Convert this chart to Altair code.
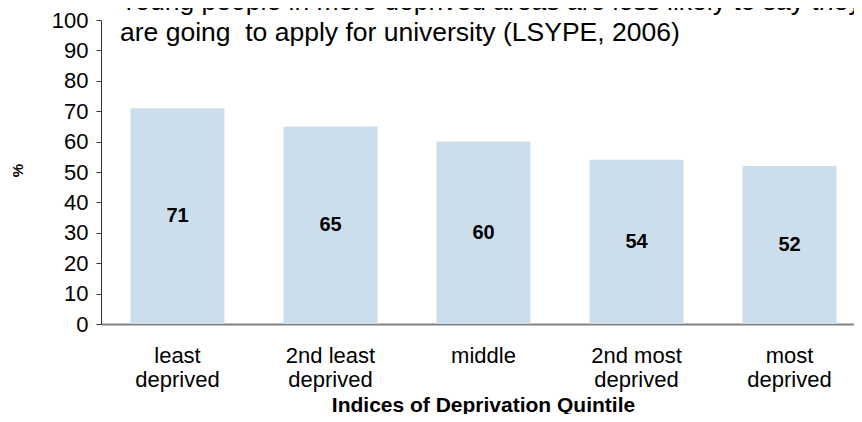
import altair as alt
import pandas as pd

categories = ["least deprived", "2nd least deprived", "middle", "2nd most deprived", "most deprived"]
values = [71, 65, 60, 54, 52]
y_ticks = [0, 10, 20, 30, 40, 50, 60, 70, 80, 90, 100]
title_lines = [
    "Young people in more deprived areas are less likely to say they",
    "are going \u00a0to apply for university (LSYPE, 2006)",
]
x_title = "Indices of Deprivation Quintile"
y_title = "%"

df = pd.DataFrame({"quintile": categories, "pct": values})

FONT = "Liberation Sans"
BAR = "#CCDDEB"

x_scale = alt.Scale(range=[0, 765], paddingInner=0.386, paddingOuter=0.193)
x_axis = alt.Axis(
    title=x_title,
    labelAngle=0,
    labelExpr="indexof(datum.value, ' deprived') > 0 ? [replace(datum.value, ' deprived', ''), 'deprived'] : datum.value",
    labelFont=FONT,
    labelFontSize=22,
    labelLineHeight=24,
    labelPadding=31,
    labelColor="black",
    labelBaseline="middle",
    labelOverlap=False,
    ticks=False,
    domainColor="#808080",
    domainWidth=2,
    titleFont=FONT,
    titleFontSize=21,
    titleFontWeight="bold",
    titleColor="black",
    titleX=382,
    titleY=81,
    titleBaseline="middle",
    titleAlign="center",
)

y_scale = alt.Scale(domain=[0, 100], nice=False)
y_axis = alt.Axis(
    title=y_title,
    values=y_ticks,
    grid=False,
    labelOverlap=False,
    labelFont=FONT,
    labelFontSize=22,
    labelColor="black",
    labelPadding=8,
    tickSize=5,
    tickColor="#333333",
    domainColor="#333333",
    titleFont=FONT,
    titleFontSize=15,
    titleFontWeight="bold",
    titleColor="black",
    titleAngle=270,
    titleX=-84,
    titleY=150,
    titleBaseline="middle",
    titleAlign="center",
)

bars = alt.Chart(df).mark_bar(color=BAR).encode(
    x=alt.X("quintile:N", sort=categories, scale=x_scale, axis=x_axis),
    y=alt.Y("pct:Q", scale=y_scale, axis=y_axis),
)

labels = (
    alt.Chart(df)
    .transform_calculate(mid="datum.pct / 2")
    .mark_text(font=FONT, fontSize=20, fontWeight="bold", color="black", baseline="middle")
    .encode(
        x=alt.X("quintile:N", sort=categories, scale=x_scale, axis=x_axis),
        y=alt.Y("mid:Q", scale=y_scale, axis=y_axis),
        text=alt.Text("pct:Q"),
    )
)

chart = (
    alt.layer(bars, labels)
    .properties(
        width=753,
        height=304,
        autosize=alt.AutoSizeParams(type="none"),
        padding={"left": 93, "top": 12, "right": 0, "bottom": 90},
        title=alt.TitleParams(
            text=title_lines,
            anchor="start",
            frame="group",
            font=FONT,
            fontSize=26.5,
            fontWeight="normal",
            color="black",
            lineHeight=31,
            baseline="top",
            offset=0,
            dx=19,
            dy=37,
        ),
    )
    .configure_view(stroke=None)
)

chart.save("out.html", embed_options={"renderer": "svg", "actions": False})
